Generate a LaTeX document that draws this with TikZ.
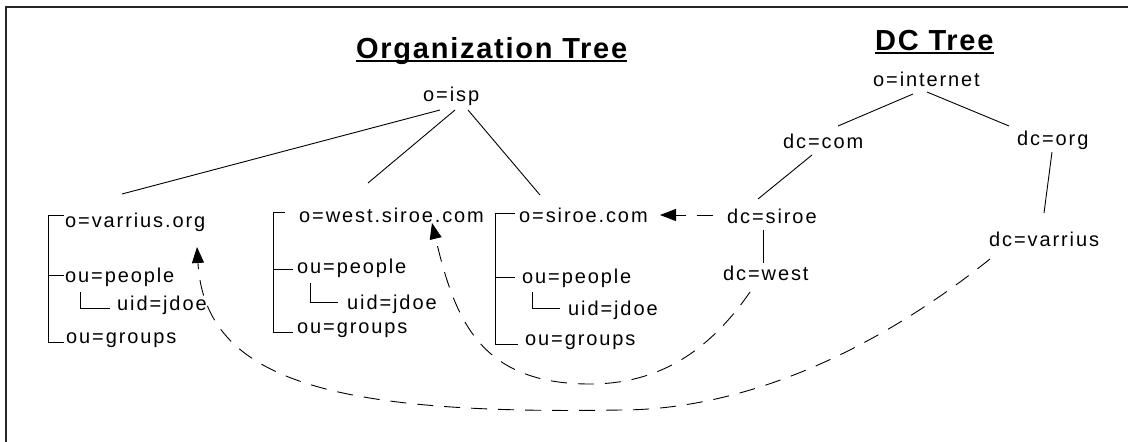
\documentclass[tikz,border=0pt]{standalone}
\usepackage{fontspec}
\setmainfont{Liberation Sans}
\newfontfamily\lblfont[LetterSpace=9.5]{Liberation Sans}
\newfontfamily\ttlfont[LetterSpace=6]{Liberation Sans}
\usetikzlibrary{arrows.meta,calc}
\begin{document}
\begin{tikzpicture}[x=1pt,y=-1pt,
  lbl/.style={inner sep=0pt, anchor=base west, font=\lblfont\fontsize{20}{24}\selectfont},
  ttl/.style={inner sep=0pt, anchor=base west, font=\ttlfont\bfseries\fontsize{29}{34}\selectfont},
  edge/.style={line width=0.9pt},
  frame/.style={line width=2pt, draw=black!85},
  uline/.style={line width=2pt},
  link/.style={line width=0.9pt, dash pattern=on 16pt off 11pt, -{Triangle[length=16pt,width=12pt]}}]
\useasboundingbox (0,0) rectangle (1128,442);
\fill[white] (0,0) rectangle (1128,442);
\coordinate (fb) at (6,442);
\coordinate (fc) at (6,7);
\coordinate (fr) at (1128,7);
\draw[frame] (fb) -- (fc) -- (fr);
% titles
\node[ttl] (t1) at (356,58) {Organization Tree};
\node[ttl] (t2) at (875,50) {DC Tree};
\draw[uline] ($(t1.base west)+(0,3)$) -- ($(t1.base east)+(0,3)$);
\draw[uline] ($(t2.base west)+(0,3)$) -- ($(t2.base east)+(0,3)$);
% nodes
\node[lbl] (isp) at (423,101) {o=isp};
\node[lbl] (inet) at (873,86) {o=internet};
\node[lbl] (dccom) at (783,148) {dc=com};
\node[lbl] (dcorg) at (1017,145) {dc=org};
\node[lbl] (dcvar) at (989,246) {dc=varrius};
\node[lbl] (dcsiroe) at (727,223) {dc=siroe};
\node[lbl] (dcwest) at (723,280) {dc=west};
\node[lbl] (os) at (519,222) {o=siroe.com};
\node[lbl] (ow) at (299,222) {o=west.siroe.com};
\node[lbl] (ov) at (65,227) {o=varrius.org};
\node[lbl] (vp) at (65,282) {ou=people};
\node[lbl] (vu) at (117,310) {uid=jdoe};
\node[lbl] (vg) at (66,343) {ou=groups};
\node[lbl] (wp) at (297,273) {ou=people};
\node[lbl] (wu) at (347,309) {uid=jdoe};
\node[lbl] (wg) at (297,333) {ou=groups};
\node[lbl] (sp) at (522,283) {ou=people};
\node[lbl] (su) at (568,315) {uid=jdoe};
\node[lbl] (sg) at (525,345) {ou=groups};
% tree edges
\draw[edge] ($(isp.base west)+(17,9)$) -- ($(ov.base west)+(57,-33)$);
\draw[edge] ($(isp.base west)+(32,9)$) -- ($(ow.base west)+(69,-39)$);
\draw[edge] ($(isp.base west)+(45,9)$) -- ($(os.base west)+(21,-27)$);
\draw[edge] ($(inet.base west)+(40,8)$) -- ($(dccom.base west)+(55,-22)$);
\draw[edge] ($(inet.base west)+(54,6)$) -- ($(dcorg.base west)+(-8,-19)$);
\draw[edge] ($(dccom.base west)+(29,7)$) -- ($(dcsiroe.base west)+(31,-24)$);
\draw[edge] ($(dcorg.base west)+(35,7)$) -- ($(dcvar.base west)+(55,-33)$);
\draw[edge] ($(dcsiroe.base west)+(36,7)$) -- ($(dcwest.base west)+(40,-17)$);
% brackets varrius
\draw[edge] ($(ov.base west)+(-1,-12)$) -- ($(ov.base west)+(-17,-12)$) |- ($(vg.base west)+(-2,-1)$);
\draw[edge] ($(vp.base west)+(-17,-7)$) -- ($(vp.base west)+(-1,-7)$);
\draw[edge] ($(vp.base west)+(15,10)$) |- ($(vu.base west)+(-7,-2)$);
% brackets west
\draw[edge] ($(ow.base west)+(-14,-10)$) -- ($(ow.base west)+(-26,-10)$) |- ($(wg.base west)+(-4,-1)$);
\draw[edge] ($(wp.base west)+(-24,-4)$) -- ($(wp.base west)+(-4,-4)$);
\draw[edge] ($(wp.base west)+(13,10)$) |- ($(wu.base west)+(-9,-7)$);
% brackets siroe
\draw[edge] ($(os.base west)+(-4,-9)$) -- ($(os.base west)+(-24,-9)$) |- ($(sg.base west)+(-7,-1)$);
\draw[edge] ($(sp.base west)+(-27,-6)$) -- ($(sp.base west)+(-7,-6)$);
\draw[edge] ($(sp.base west)+(10,9)$) |- ($(su.base west)+(-8,-7)$);
% dashed links
\draw[link] ($(dcsiroe.base west)+(-14,-8)$) -- ($(os.base west)+(141,-7)$);
\draw[link] ($(dcwest.base west)+(27,12)$) .. controls (710,350) and (660,384) .. (590,384)
   .. controls (480,384) and (455,320) .. ($(ow.base west)+(133,1)$);
\draw[link] ($(dcvar.base west)+(1,13)$) .. controls (870,355) and (740,410) .. (620,410)
   .. controls (330,415) and (205,380) .. ($(ov.base west)+(132,20)$);
\end{tikzpicture}
\end{document}
